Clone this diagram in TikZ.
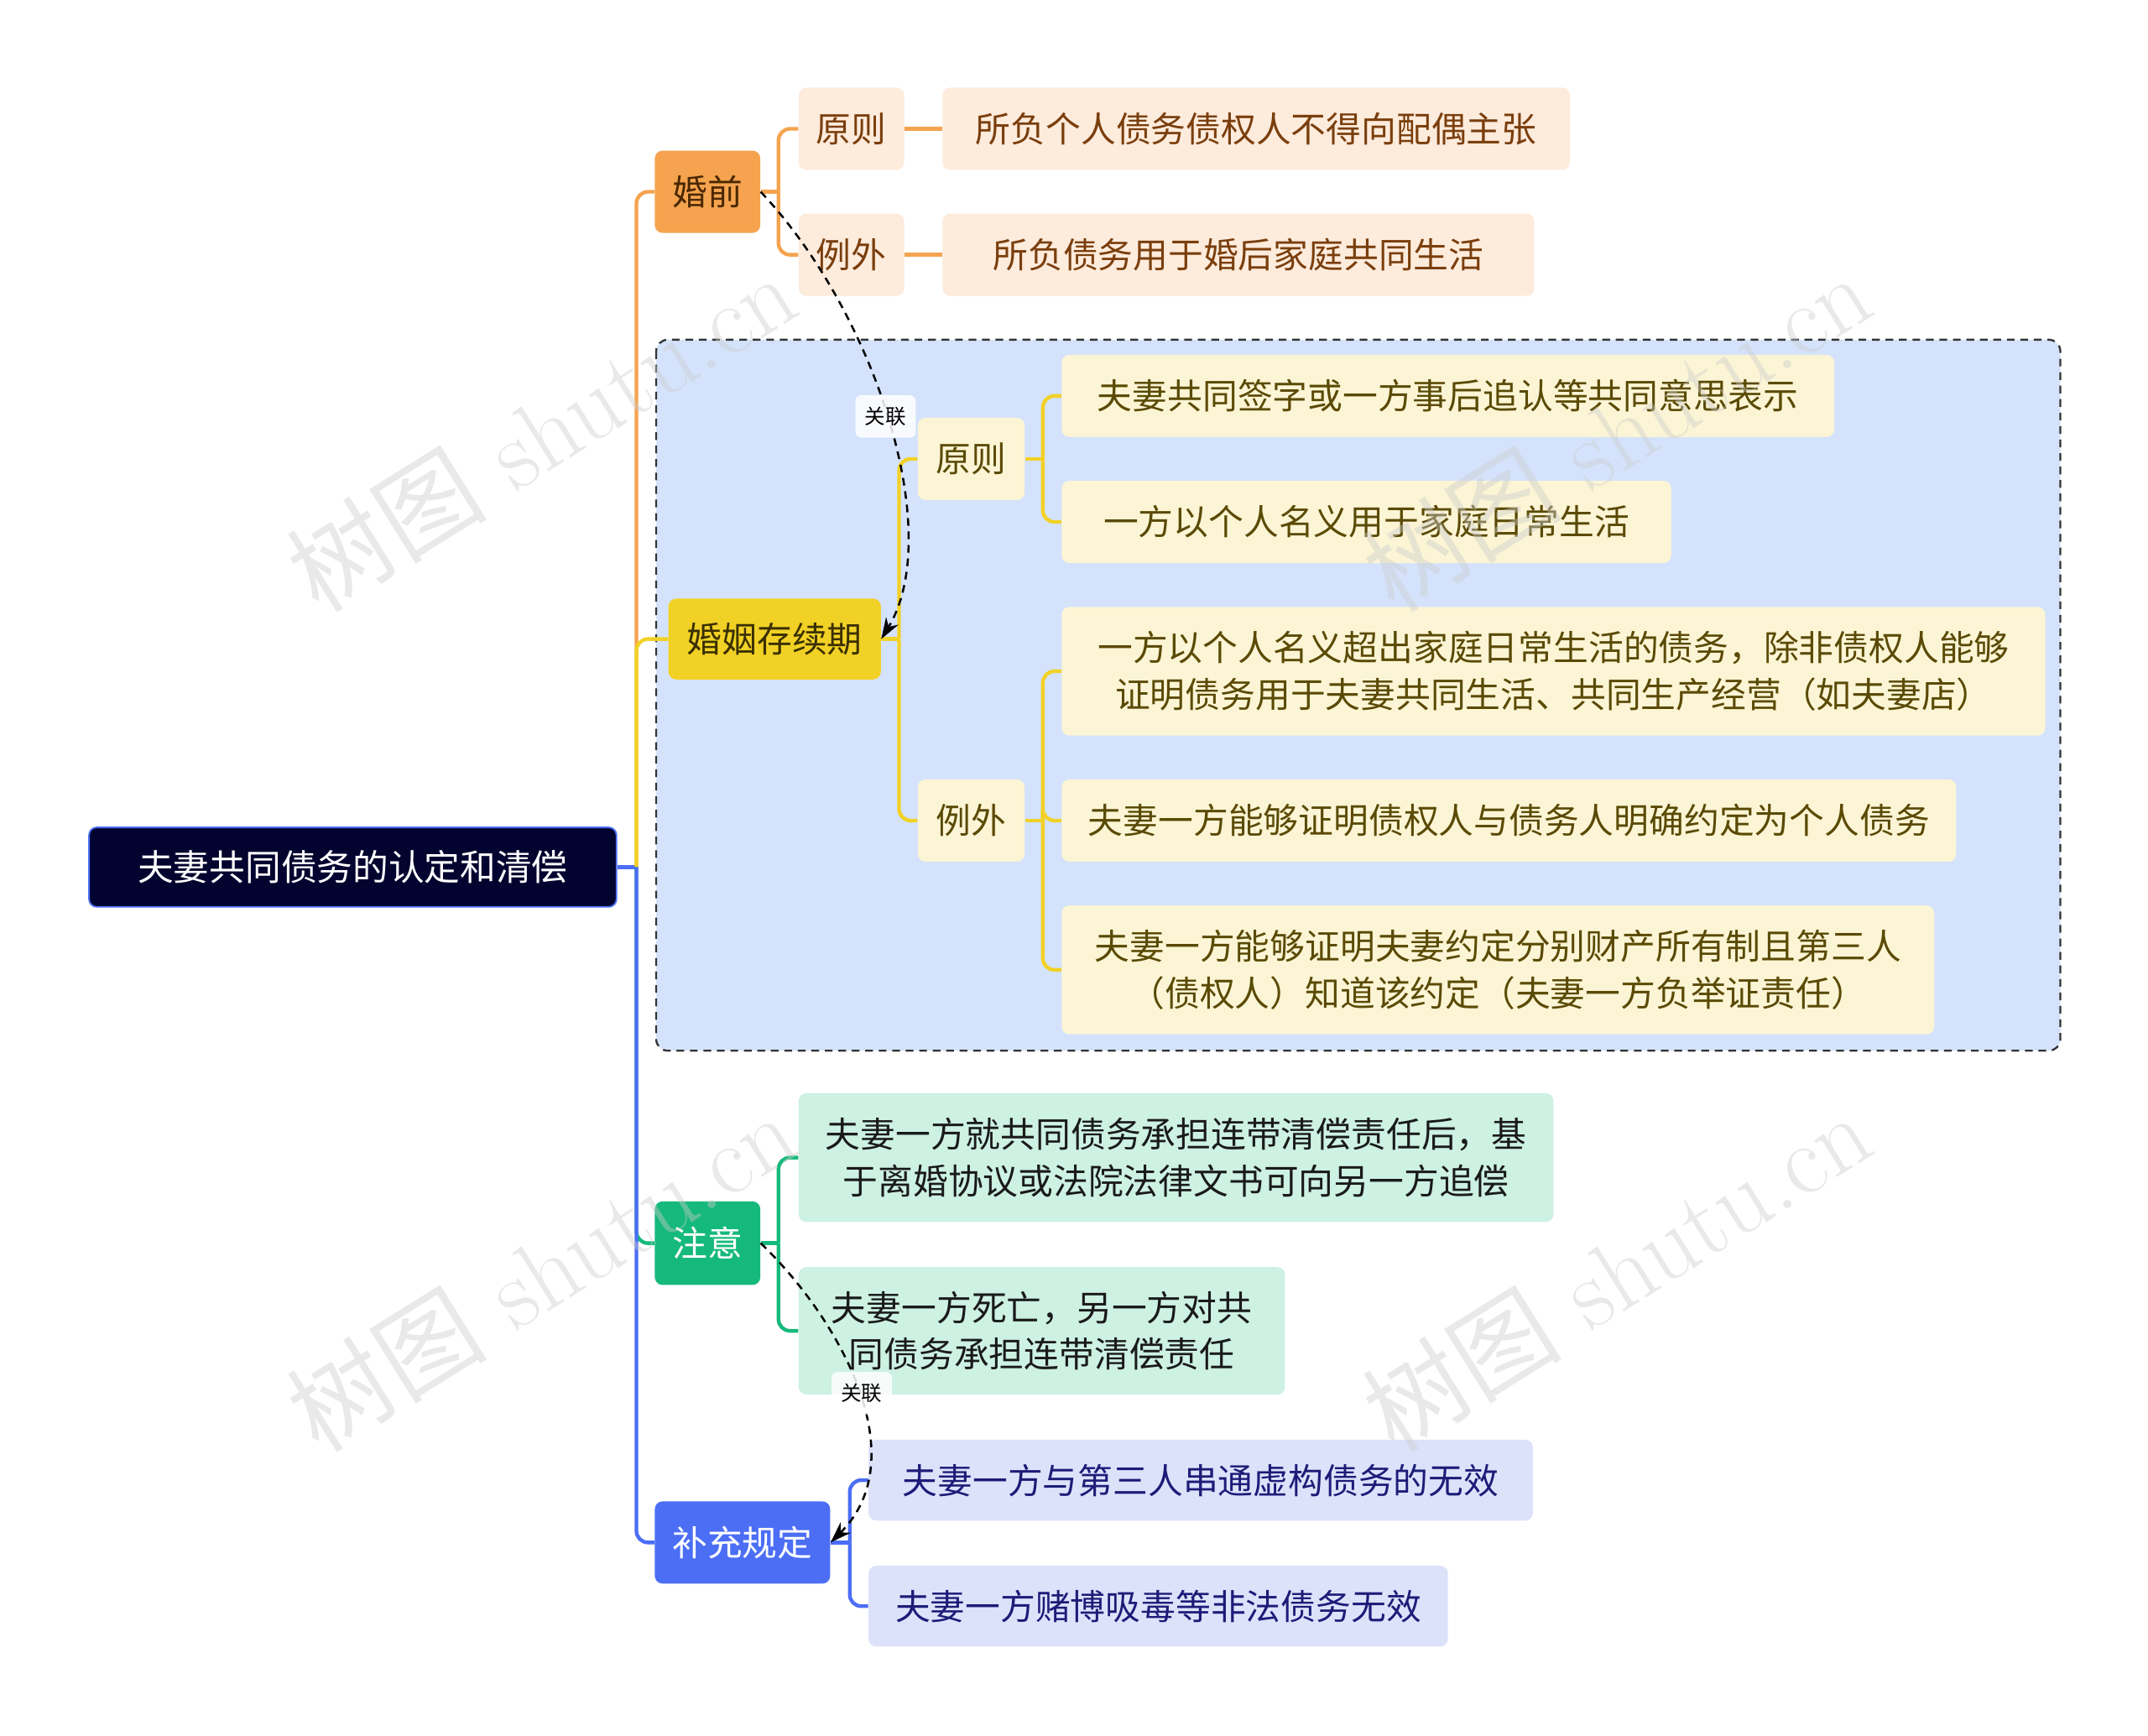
\documentclass[tikz,border=0pt]{standalone}
\usepackage{fontspec}
\newfontfamily\cjk{Noto Sans CJK SC}
\usepackage{xcolor}
\usepackage{tikz}
\usetikzlibrary{arrows.meta}

\definecolor{rootbg}{HTML}{03032F}
\definecolor{orgdark}{HTML}{F5A34F}
\definecolor{orglight}{HTML}{FDEBDC}
\definecolor{orgtext}{HTML}{4A2800}
\definecolor{orgsub}{HTML}{7A3E0C}
\definecolor{ylwdark}{HTML}{F2D126}
\definecolor{ylwlight}{HTML}{FCF5D5}
\definecolor{ylwtext}{HTML}{3A3000}
\definecolor{ylwsub}{HTML}{5A4A05}
\definecolor{grndark}{HTML}{16B97C}
\definecolor{grnlight}{HTML}{CDF1E3}
\definecolor{grnsub}{HTML}{1A1A1A}
\definecolor{bludark}{HTML}{4B6EF5}
\definecolor{blulight}{HTML}{DCE2FA}
\definecolor{blusub}{HTML}{1C1C78}
\definecolor{grpbg}{HTML}{D4E3FB}

\begin{document}
\begin{tikzpicture}[x=0.025cm,y=-0.025cm,>={Stealth[length=11pt,width=7.5pt]},
	sz/.style 2 args={minimum width=#1*0.025cm,minimum height=#2*0.025cm},
	box/.style={rounded corners=4pt,inner sep=0pt,align=center,font=\cjk\fontsize{18.2}{24.2}\selectfont},
	rootbox/.style={box,fill=rootbg,draw=bludark,line width=0.8pt,text=white,font=\cjk\fontsize{18.6}{24}\selectfont},
	org/.style={draw=orgdark,line width=1.9pt,rounded corners=6pt},
	ylw/.style={draw=ylwdark,line width=1.9pt,rounded corners=6pt},
	grn/.style={draw=grndark,line width=1.9pt,rounded corners=6pt},
	blu/.style={draw=bludark,line width=1.9pt,rounded corners=6pt},
	rel/.style={black,line width=1.1pt,dash pattern=on 4pt off 3pt},
	rellbl/.style={rounded corners=3pt,fill=white,fill opacity=0.85,text opacity=1,inner sep=0pt,sz={44}{31},font=\cjk\fontsize{10.7}{12}\selectfont},
	wmark/.style={rotate=32,text=gray!40,opacity=0.42,font=\rmfamily\fontsize{52}{60}\selectfont}]

	\fill[white] (0,0) rectangle (1568,1267);
	\useasboundingbox (0,0) rectangle (1568,1267);

	% group frame round the second branch
	\draw[fill=grpbg,draw=black!80,line width=1pt,dash pattern=on 4pt off 3pt,rounded corners=6pt] (479,248) rectangle (1504,767);

	\node[rootbox,sz={385}{58}] (root) at (257.5,633) {夫妻共同债务的认定和清偿};

	\node[box,fill=orgdark,text=orgtext,sz={77}{60}] (hq) at (516.5,140) {婚前};
	\node[box,fill=ylwdark,text=ylwtext,sz={155}{59}] (hy) at (565.5,466.5) {婚姻存续期};
	\node[box,fill=grndark,text=white,sz={77}{61}] (zy) at (516.5,907.5) {注意};
	\node[box,fill=bludark,text=white,sz={128}{60}] (bc) at (542,1126) {补充规定};

	\node[box,fill=orglight,text=orgsub,sz={77}{60}] (hqyz) at (621.5,94) {原则};
	\node[box,fill=orglight,text=orgsub,sz={77}{60}] (hqlw) at (621.5,186) {例外};
	\node[box,fill=orglight,text=orgsub,sz={458}{60}] (hqyza) at (917,94) {所负个人债务债权人不得向配偶主张};
	\node[box,fill=orglight,text=orgsub,sz={432}{60}] (hqlwa) at (904,186) {所负债务用于婚后家庭共同生活};

	\node[box,fill=ylwlight,text=ylwsub,sz={78}{60}] (hyyz) at (709,335) {原则};
	\node[box,fill=ylwlight,text=ylwsub,sz={78}{60}] (hylw) at (709,599) {例外};
	\node[box,fill=ylwlight,text=ylwsub,sz={564}{60}] (hyyza) at (1057,289) {夫妻共同签字或一方事后追认等共同意思表示};
	\node[box,fill=ylwlight,text=ylwsub,sz={445}{60}] (hyyzb) at (997.5,381) {一方以个人名义用于家庭日常生活};
	\node[box,fill=ylwlight,text=ylwsub,sz={718}{94}] (hylwa) at (1134,490) {一方以个人名义超出家庭日常生活的债务，除非债权人能够\\证明债务用于夫妻共同生活、共同生产经营（如夫妻店）};
	\node[box,fill=ylwlight,text=ylwsub,sz={653}{60}] (hylwb) at (1101.5,599) {夫妻一方能够证明债权人与债务人明确约定为个人债务};
	\node[box,fill=ylwlight,text=ylwsub,sz={637}{94}] (hylwc) at (1093.5,708) {夫妻一方能够证明夫妻约定分别财产所有制且第三人\\（债权人）知道该约定（夫妻一方负举证责任）};

	\node[box,fill=grnlight,text=grnsub,sz={551}{94}] (zya) at (858.5,845) {夫妻一方就共同债务承担连带清偿责任后，基\\于离婚协议或法院法律文书可向另一方追偿};
	\node[box,fill=grnlight,text=grnsub,sz={355}{93}] (zyb) at (760.5,971.5) {夫妻一方死亡，另一方对共\\同债务承担连带清偿责任};

	\node[box,fill=blulight,text=blusub,sz={485}{59}] (bca) at (876.5,1080.5) {夫妻一方与第三人串通虚构债务的无效};
	\node[box,fill=blulight,text=blusub,sz={423}{59}] (bcb) at (845.5,1172.5) {夫妻一方赌博吸毒等非法债务无效};

	% branches
	\draw[blu] (root.east) -- ++(14,0) coordinate (rj);
	\draw[org] (rj) |- (hq.west);
	\draw[ylw] (rj) |- (hy.west);
	\draw[grn] (rj) |- (zy.west);
	\draw[blu] (rj) |- (bc.west);

	\draw[org] (hq.east) -- ++(13,0) coordinate (hqj);
	\draw[org] (hqj) |- (hqyz.west);
	\draw[org] (hqj) |- (hqlw.west);
	\draw[org] (hqyz.east) -- (hqyza.west);
	\draw[org] (hqlw.east) -- (hqlwa.west);

	\draw[ylw] (hy.east) -- ++(13,0) coordinate (hyj);
	\draw[ylw] (hyj) |- (hyyz.west);
	\draw[ylw] (hyj) |- (hylw.west);
	\draw[ylw] (hyyz.east) -- ++(13,0) coordinate (hyyzj);
	\draw[ylw] (hyyzj) |- (hyyza.west);
	\draw[ylw] (hyyzj) |- (hyyzb.west);
	\draw[ylw] (hylw.east) -- ++(13,0) coordinate (hylwj);
	\draw[ylw] (hylwj) |- (hylwa.west);
	\draw[ylw] (hylwj) |- (hylwb.west);
	\draw[ylw] (hylwj) |- (hylwc.west);

	\draw[grn] (zy.east) -- ++(13,0) coordinate (zyj);
	\draw[grn] (zyj) |- (zya.west);
	\draw[grn] (zyj) |- (zyb.west);

	\draw[blu] (bc.east) -- ++(14,0) coordinate (bcj);
	\draw[blu] (bcj) |- (bca.west);
	\draw[blu] (bcj) |- (bcb.west);

	% relations
	\draw[rel,->] (hq.east) .. controls (640,230) and (690,390) .. (hy.east);
	\node[rellbl] (rela) at (646.5,304) {关联};
	\draw[rel,->] (zy.east) .. controls (615,965) and (668,1065) .. (bc.east);
	\node[rellbl] (relb) at (629,1017) {关联};

	% watermarks
	\foreach \wx/\wy/\wn in {395/315/wma,1180/315/wmb,395/928/wmc,1180/928/wmd}
		\node[wmark] (\wn) at (\wx,\wy) {{\cjk 树图} shutu.cn};
\end{tikzpicture}
\end{document}
